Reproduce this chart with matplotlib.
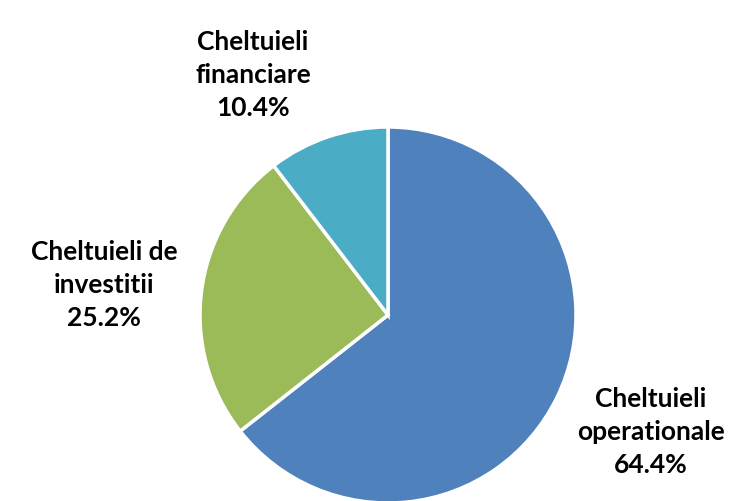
import matplotlib
matplotlib.use("Agg")
import matplotlib.pyplot as plt

categories = ["Cheltuieli\noperationale", "Cheltuieli de\ninvestitii", "Cheltuieli\nfinanciare"]
shares = [64.4, 25.2, 10.4]
colours = ["#4F81BD", "#9BBB59", "#4BACC6"]

figure = plt.figure(figsize=(7.34, 5.01), dpi=100)
axes = figure.add_axes([0, 0, 1, 1])

# pie in pixel-like coordinates so the bottom is clipped like the original
labels = ["%s\n%.1f%%" % (name, value) for name, value in zip(categories, shares)]
wedges, texts = axes.pie(shares, labels=labels, colors=colours, startangle=90,
                         counterclock=False, center=(388, 186), radius=188,
                         labeldistance=1.5,
                         wedgeprops={"edgecolor": "white", "linewidth": 2.5},
                         textprops={"fontsize": 19, "fontweight": "bold",
                                    "family": "Lato", "linespacing": 1.45})

# label anchors picked by hand, as the original moved them around
label_anchors = [(651, 69), (104, 216), (253, 426)]
for text, anchor in zip(texts, label_anchors):
    text.set_position(anchor)
    text.set_horizontalalignment("center")
    text.set_verticalalignment("center")

axes.set_xlim(0, 734)
axes.set_ylim(0, 501)
axes.set_aspect("equal")
axes.axis("off")

figure.savefig("out.png", dpi=100)
